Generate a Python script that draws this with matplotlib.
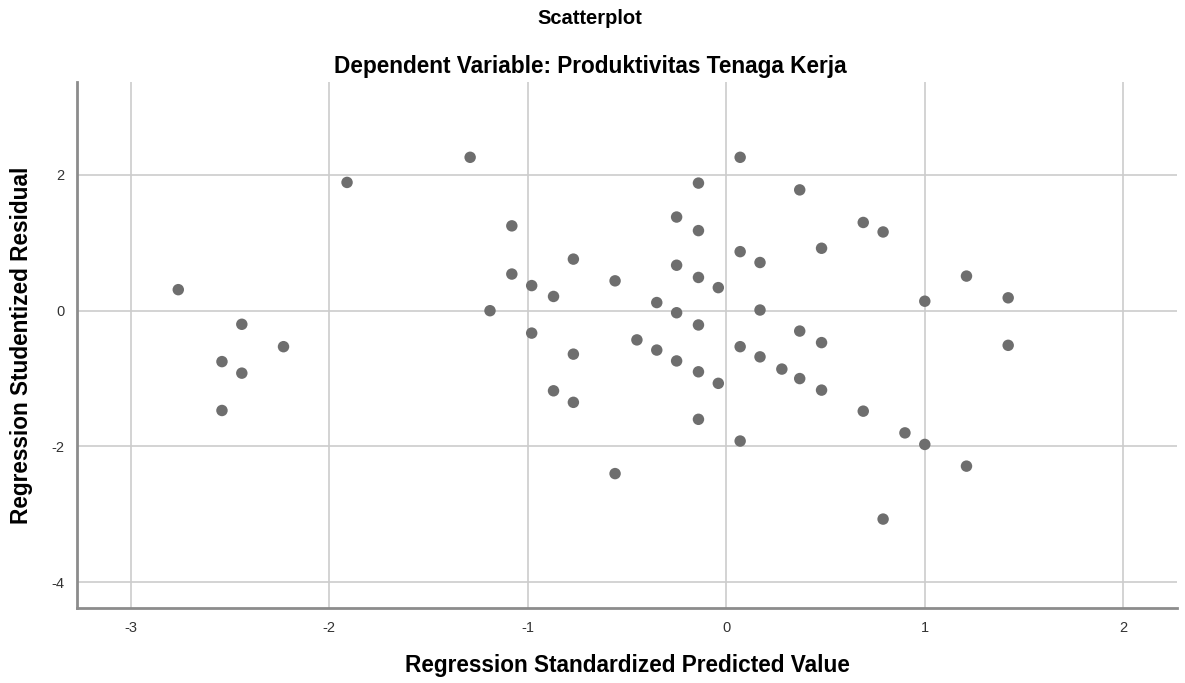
import matplotlib.pyplot as plt

# -------------------------------
# Data read off the SPSS residual scatterplot
# -------------------------------
pred_std = [
    -2.76, -2.54, -2.54, -2.44, -2.44, -2.23, -1.91, -1.29, -1.19,
    -1.08, -1.08, -0.98, -0.98, -0.87, -0.87, -0.77, -0.77, -0.77,
    -0.56, -0.56, -0.45, -0.35, -0.35,
    -0.25, -0.25, -0.25, -0.25,
    -0.14, -0.14, -0.14, -0.14, -0.14, -0.14,
    -0.04, -0.04,
    0.07, 0.07, 0.07, 0.07,
    0.17, 0.17, 0.17, 0.28,
    0.37, 0.37, 0.37,
    0.48, 0.48, 0.48,
    0.69, 0.69, 0.79, 0.79, 0.90,
    1.00, 1.00, 1.21, 1.21, 1.42, 1.42,
]
resid_stud = [
    0.31, -0.75, -1.47, -0.20, -0.92, -0.53, 1.89, 2.26, 0.00,
    1.25, 0.54, 0.37, -0.33, 0.21, -1.18, 0.76, -0.64, -1.35,
    0.44, -2.40, -0.43, 0.12, -0.58,
    1.38, 0.67, -0.03, -0.74,
    1.88, 1.18, 0.49, -0.21, -0.90, -1.60,
    0.34, -1.07,
    2.26, 0.87, -0.53, -1.92,
    0.71, 0.01, -0.68, -0.86,
    1.78, -0.30, -1.00,
    0.92, -0.47, -1.17,
    1.30, -1.48, 1.16, -3.07, -1.80,
    0.14, -1.97, 0.51, -2.29, 0.19, -0.51,
]

x_ticks = [-3, -2, -1, 0, 1, 2]
y_ticks = [-4, -2, 0, 2]

plt.rcParams['font.family'] = ['Liberation Sans', 'DejaVu Sans']
plt.rcParams['axes.unicode_minus'] = False

fig = plt.figure(figsize=(11.85, 6.83), dpi=100)
ax = fig.add_axes([0.065, 0.1098, 0.9282, 0.7702])

ax.scatter(pred_std, resid_stud, s=68, color='#6e6e6e', edgecolors='none', zorder=3)

ax.set_xlim(-3.27, 2.27)
ax.set_ylim(-4.38, 3.37)
ax.set_xticks(x_ticks)
ax.set_yticks(y_ticks)
ax.grid(True, color='#cccccc', linewidth=1.2, zorder=0)
ax.tick_params(length=0, labelsize=10.5, labelcolor='#333333', pad=9)

for side in ['top', 'right']:
    ax.spines[side].set_visible(False)
for side in ['left', 'bottom']:
    ax.spines[side].set_color('#8c8c8c')
    ax.spines[side].set_linewidth(2)

ax.set_xlabel("Regression Standardized Predicted Value", fontsize=16.3,
              fontweight='bold', labelpad=14)
ax.set_ylabel("Regression Studentized Residual", fontsize=16.3,
              fontweight='bold', labelpad=13)

fig.text(0.498, 0.973, "Scatterplot", ha='center', va='center',
         fontsize=14.5, fontweight='bold')
fig.text(0.498, 0.903, "Dependent Variable: Produktivitas Tenaga Kerja",
         ha='center', va='center', fontsize=16.3, fontweight='bold')

fig.savefig("out.png", dpi=100)
